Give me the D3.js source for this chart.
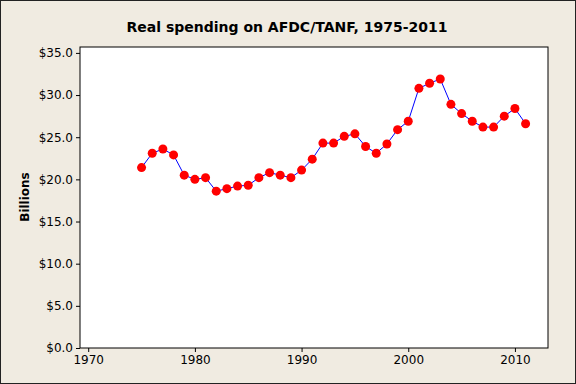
<!DOCTYPE html>
<html>
<head>
<meta charset="utf-8">
<script src="https://cdn.jsdelivr.net/npm/d3@7"></script>
<style>
  body { margin: 0; background: #f0ebe1; }
  svg { display: block; }
</style>
</head>
<body>
<svg id="chart" width="576" height="384"></svg>
<script>
// values (billions of real dollars)
var years = [1975,1976,1977,1978,1979,1980,1981,1982,1983,1984,1985,1986,1987,1988,1989,1990,1991,1992,1993,
  1994,1995,1996,1997,1998,1999,2000,2001,2002,2003,2004,2005,2006,2007,2008,2009,2010,2011]
var spending = [21.4,23.1,23.6,22.9,20.5,20.0,20.2,18.6,18.9,19.2,19.3,20.2,20.8,20.5,20.2,21.1,22.4,24.3,24.3,
  25.1,25.4,23.9,23.1,24.2,25.9,26.9,30.8,31.4,31.9,28.9,27.8,26.9,26.2,26.2,27.5,28.4,26.6]
var yTicks = [0,5,10,15,20,25,30,35]
var xTicks = [1970,1980,1990,2000,2010]

var data = years.map((y, i) => ({year: y, value: spending[i]}))

var width = 576, height = 384
var margin = {top: 47, right: 28, bottom: 36, left: 80}

var svg = d3.select('#chart')

svg.append('rect')
    .attr('x', 0.5).attr('y', 0.5)
    .attr('width', width - 1).attr('height', height - 1)
    .attr('fill', '#f0ebe1')
    .attr('stroke', '#222')

var x = d3.scaleLinear()
    .domain([1969.23, 2013.1])
    .range([margin.left, width - margin.right])

var y = d3.scaleLinear()
    .domain([0, 35.7])
    .range([height - margin.bottom, margin.top])

svg.append('rect')
    .attr('x', margin.left).attr('y', margin.top)
    .attr('width', width - margin.left - margin.right)
    .attr('height', height - margin.top - margin.bottom)
    .attr('fill', '#fff')
    .attr('stroke', '#000')

var xAxis = d3.axisBottom(x).tickValues(xTicks).tickFormat(d3.format('d')).tickSizeOuter(0).tickSize(4).tickPadding(3)
var yAxis = d3.axisLeft(y).tickValues(yTicks).tickFormat(d => '$' + d.toFixed(1)).tickSizeOuter(0).tickSize(4).tickPadding(3)

svg.append('g')
    .attr('transform', `translate(0,${height - margin.bottom})`)
    .call(xAxis)
    .call(g => g.select('.domain').remove())
    .call(g => g.selectAll('text').style('font', '12px Tahoma, "DejaVu Sans", sans-serif').attr('fill', '#000'))

svg.append('g')
    .attr('transform', `translate(${margin.left},0)`)
    .call(yAxis)
    .call(g => g.select('.domain').remove())
    .call(g => g.selectAll('text').style('font', '12px Tahoma, "DejaVu Sans", sans-serif').attr('fill', '#000'))

var line = d3.line()
    .x(d => x(d.year))
    .y(d => y(d.value))

svg.append('path')
    .datum(data)
    .attr('fill', 'none')
    .attr('stroke', '#0000ff')
    .attr('stroke-width', 1)
    .attr('d', line)

svg.append('g')
  .selectAll('circle')
  .data(data)
  .join('circle')
    .attr('cx', d => x(d.year))
    .attr('cy', d => y(d.value))
    .attr('r', 4.5)
    .attr('fill', '#ff0000')

svg.append('text')
    .attr('x', 287)
    .attr('y', 32)
    .attr('text-anchor', 'middle')
    .style('font', 'bold 14px Tahoma, "DejaVu Sans", sans-serif')
    .text('Real spending on AFDC/TANF, 1975-2011')

svg.append('text')
    .attr('transform', 'translate(29,197) rotate(-90)')
    .attr('text-anchor', 'middle')
    .style('font', 'bold 12px Tahoma, "DejaVu Sans", sans-serif')
    .text('Billions')
</script>
</body>
</html>
